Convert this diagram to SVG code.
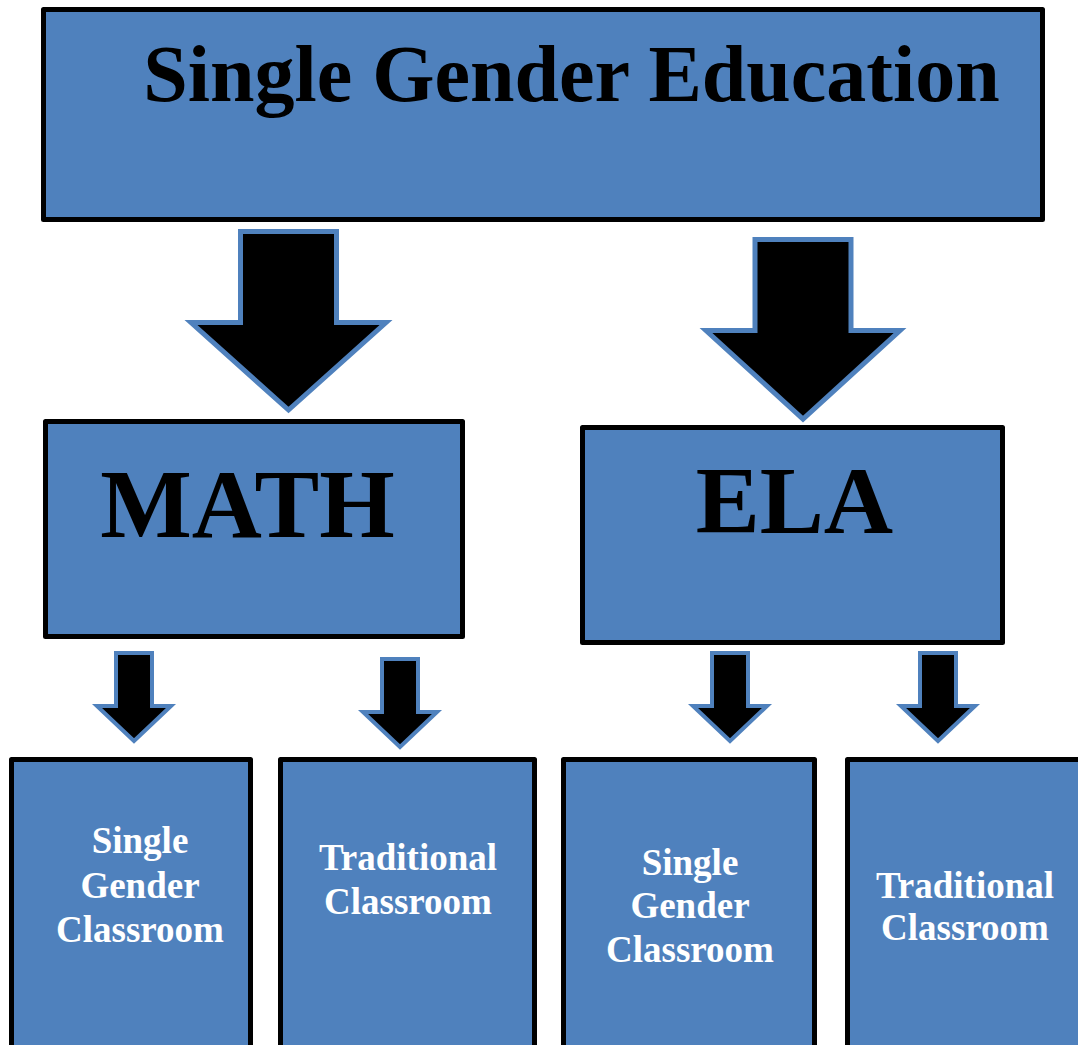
<svg xmlns="http://www.w3.org/2000/svg" width="1078" height="1045" viewBox="0 0 1078 1045">
<style>
.box{fill:#4F81BD;stroke:#000;stroke-width:5;stroke-linejoin:round}
.arr{fill:#000;stroke:#4F81BD;stroke-width:5;stroke-linejoin:miter}
.arrs{fill:#000;stroke:#4F81BD;stroke-width:4;stroke-linejoin:miter}
.t{font-family:"Liberation Serif","Times New Roman",serif;font-weight:bold}
.big{fill:#000;text-anchor:middle}
.sm{fill:#fff;font-size:37px;text-anchor:middle}
</style>
<rect width="1078" height="1045" fill="#fff"/>
<g id="connectors">
<polygon class="arr" points="240.5,231.5 336.5,231.5 336.5,322.5 386,322.5 288.5,410 191,322.5 240.5,322.5"/>
<polygon class="arr" points="755,239.5 851,239.5 851,330.5 900,330.5 803,419 706,330.5 755,330.5"/>
<polygon class="arrs" points="116,653 152,653 152,706 171,706 134,741 97,706 116,706"/>
<polygon class="arrs" points="382,659 418,659 418,712 437,712 400,747 363,712 382,712"/>
<polygon class="arrs" points="712,653 748,653 748,706 767,706 730,741 693,706 712,706"/>
<polygon class="arrs" points="920,653 956,653 956,706 975,706 938,741 901,706 920,706"/>
</g>
<g id="top">
<rect class="box" x="43.5" y="9.5" width="999" height="210"/>
<text class="t big" x="571.5" y="101" font-size="80">Single Gender Education</text>
</g>
<g id="math">
<rect class="box" x="45.5" y="421.5" width="417" height="215"/>
<text class="t big" x="247.5" y="537" font-size="97">MATH</text>
</g>
<g id="ela">
<rect class="box" x="582.5" y="427.5" width="420" height="215"/>
<text class="t big" x="794.5" y="533" font-size="96">ELA</text>
</g>
<g id="math-single">
<rect class="box" x="11.5" y="759.5" width="239" height="300"/>
<text class="t sm" x="140"><tspan x="140" y="853">Single</tspan><tspan x="140" y="898">Gender</tspan><tspan x="140" y="942">Classroom</tspan></text>
</g>
<g id="math-traditional">
<rect class="box" x="280.5" y="759.5" width="254" height="300"/>
<text class="t sm" x="408"><tspan x="408" y="870">Traditional</tspan><tspan x="408" y="914">Classroom</tspan></text>
</g>
<g id="ela-single">
<rect class="box" x="563.5" y="759.5" width="251" height="300"/>
<text class="t sm" x="690"><tspan x="690" y="875">Single</tspan><tspan x="690" y="918">Gender</tspan><tspan x="690" y="962">Classroom</tspan></text>
</g>
<g id="ela-traditional">
<rect class="box" x="847.5" y="759.5" width="260" height="300"/>
<text class="t sm" x="965"><tspan x="965" y="898">Traditional</tspan><tspan x="965" y="940">Classroom</tspan></text>
</g>
</svg>
